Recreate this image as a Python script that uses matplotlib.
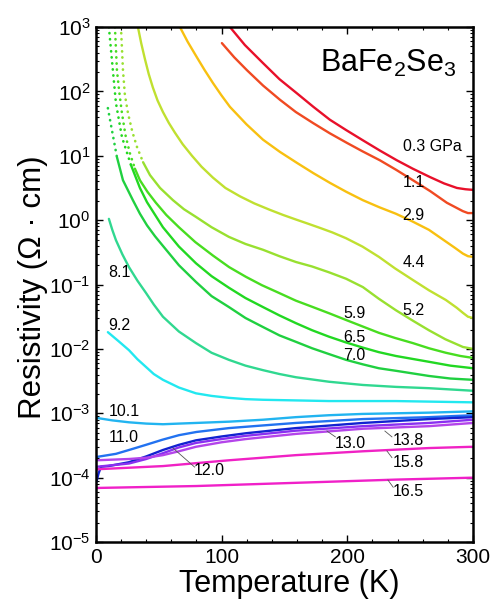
import numpy as np
import matplotlib
matplotlib.use("Agg")
import matplotlib.pyplot as plt
from matplotlib.ticker import LogLocator, MultipleLocator

plt.rcParams['font.family'] = ['Liberation Sans', 'DejaVu Sans']
plt.rcParams['mathtext.fontset'] = 'custom'
plt.rcParams['mathtext.rm'] = 'Liberation Sans'
plt.rcParams['mathtext.it'] = 'Liberation Sans:italic'

# pressure labels (GPa)
pressures = ['0.3', '1.1', '2.9', '4.4', '5.2', '5.9', '6.5', '7.0', '8.1',
             '9.2', '10.1', '11.0', '12.0', '13.0', '13.8', '15.8', '16.5']

# temperature (K) and log10 of resistivity (Ohm cm)
t_0p3 = [104, 106.6, 118.5, 132.9, 146, 159.9, 173, 186.1, 199, 212.4, 226, 239.4, 252,
         265.7, 277, 287.2, 294, 300]
lg_0p3 = [3.06, 3.0, 2.72, 2.44, 2.19, 1.97, 1.76, 1.56, 1.40, 1.24, 1.08, 0.93, 0.80,
          0.67, 0.57, 0.50, 0.48, 0.47]
t_1p1 = [100.2, 110, 120.1, 133, 146.4, 159, 172.6, 186, 199.7, 212, 225.9, 239, 252.2,
         266, 279.2, 291.9, 296, 300]
lg_1p1 = [2.75, 2.53, 2.33, 2.09, 1.87, 1.68, 1.51, 1.35, 1.20, 1.07, 0.93, 0.78, 0.62,
          0.45, 0.27, 0.14, 0.11, 0.11]
t_2p9 = [65, 66.8, 73, 80.3, 86.5, 93.1, 99.8, 106.6, 119.7, 132.9, 146.4, 159.9, 173,
         186.1, 199.2, 212.4, 225.5, 238.6, 251.8, 264.9, 276, 285.6, 292, 296, 300]
lg_2p9 = [3.06, 3.0, 2.77, 2.53, 2.33, 2.13, 1.94, 1.76, 1.49, 1.25, 1.06, 0.89, 0.73,
          0.58, 0.44, 0.31, 0.20, 0.10, -0.02, -0.15, -0.30, -0.43, -0.52, -0.56, -0.57]
t_4p4 = [32.5, 33.4, 36, 39, 42, 45.3, 49, 53.3, 58, 62.8, 69, 76.4, 84, 93.1, 103, 114.6,
         126, 138.4, 149, 159.1, 168, 178.2, 188, 198.9, 212, 225.1, 238, 252.2, 265,
         278.4, 287, 292, 296, 300]
lg_4p4 = [3.1, 3.0, 2.75, 2.50, 2.27, 2.06, 1.86, 1.68, 1.51, 1.36, 1.18, 1.00, 0.83, 0.66,
          0.50, 0.37, 0.26, 0.16, 0.08, 0.01, -0.05, -0.12, -0.19, -0.28, -0.41, -0.57,
          -0.75, -0.93, -1.09, -1.24, -1.36, -1.44, -1.50, -1.52]
t_5p2 = [19.9, 21.5, 23, 25.5, 29, 32.6, 37.5, 43, 51, 61.3, 70, 79.6, 92, 105.8, 119,
         132.9, 146, 159.1, 172, 185.4, 199, 212.4, 225, 238.7, 252, 264.9, 278, 292, 300]
lg_5p2 = [3.0, 2.33, 1.95, 1.66, 1.37, 1.14, 0.90, 0.70, 0.50, 0.31, 0.17, 0.05, -0.11,
          -0.26, -0.37, -0.46, -0.56, -0.65, -0.72, -0.81, -0.91, -1.04, -1.22, -1.40,
          -1.56, -1.71, -1.85, -1.97, -2.00]
t_5p9 = [15.1, 16.7, 18.5, 20.7, 23.5, 27, 31, 35, 41, 47.7, 56, 66, 79, 93.1, 106, 119.3,
         132, 145.6, 159, 172.6, 186, 198.9, 212, 225.1, 238, 252.2, 265, 278.4, 290, 300]
lg_5p9 = [3.0, 2.33, 2.0, 1.66, 1.32, 1.04, 0.80, 0.62, 0.44, 0.27, 0.08, -0.11, -0.34,
          -0.55, -0.73, -0.88, -1.01, -1.13, -1.25, -1.35, -1.45, -1.55, -1.65, -1.75,
          -1.83, -1.91, -1.99, -2.06, -2.11, -2.14]
t_6p5 = [10.3, 12.7, 15.9, 20.7, 27.8, 35.0, 40.6, 53.3, 66, 79.6, 92, 105.8, 119, 132.9,
         146, 159.1, 172, 185.4, 199, 212.4, 225, 238.7, 264.9, 282, 300]
lg_6p5 = [3.0, 2.49, 1.82, 1.29, 0.86, 0.50, 0.28, -0.11, -0.41, -0.67, -0.87, -1.05,
          -1.21, -1.35, -1.48, -1.60, -1.71, -1.81, -1.90, -1.98, -2.05, -2.11, -2.20,
          -2.26, -2.30]
t_7p0 = [9.5, 12.7, 16.7, 21.5, 29.4, 35, 40.6, 47, 53.3, 66, 79.6, 92, 105.8, 119,
         132.9, 146, 159.1, 172, 185.4, 199, 212.4, 225, 238.7, 264.9, 282, 300]
lg_7p0 = [1.74, 1.40, 0.98, 0.62, 0.31, 0.10, -0.08, -0.25, -0.40, -0.70, -0.96, -1.18,
          -1.35, -1.52, -1.66, -1.79, -1.89, -1.99, -2.08, -2.17, -2.24, -2.30, -2.34,
          -2.42, -2.46, -2.48]
t_8p1 = [10.3, 13, 15.9, 21, 26.3, 33, 39.8, 46, 53.3, 66, 79.6, 92, 105.8, 119, 132.9,
         146, 159.1, 185.4, 212.4, 238.7, 264.9, 300]
lg_8p1 = [0.02, -0.15, -0.31, -0.53, -0.73, -0.94, -1.13, -1.31, -1.50, -1.73, -1.91,
          -2.06, -2.17, -2.26, -2.33, -2.39, -2.44, -2.51, -2.56, -2.59, -2.61, -2.65]
t_9p2 = [9.5, 18, 26.3, 33, 39.8, 46, 53.3, 66, 79.6, 92, 105.8, 119, 132.9, 159, 185.4,
         238.7, 300]
lg_9p2 = [-1.74, -1.88, -2.02, -2.16, -2.28, -2.39, -2.48, -2.60, -2.69, -2.73, -2.76,
          -2.78, -2.79, -2.80, -2.81, -2.81, -2.83]
t_10p1 = [0, 13, 26.3, 40, 53.3, 66, 79.6, 106, 132.9, 159, 185.4, 212, 238.7, 265, 300]
lg_10p1 = [-3.07, -3.11, -3.14, -3.16, -3.17, -3.16, -3.15, -3.13, -3.10, -3.06, -3.03,
           -3.01, -3.00, -2.99, -2.97]
t_11p0 = [0, 15.9, 28, 39.8, 53, 66, 80, 105.8, 132, 159.1, 212.4, 264.9, 300]
lg_11p0 = [-3.68, -3.63, -3.56, -3.49, -3.41, -3.34, -3.29, -3.23, -3.19, -3.15, -3.09,
           -3.06, -3.03]
t_12p0 = [0.3, 2, 4, 10, 26.3, 40, 53.3, 66, 79.6, 100, 119.3, 139, 159.1, 212.4, 264.9, 300]
lg_12p0 = [-4.07, -3.94, -3.83, -3.82, -3.76, -3.67, -3.57, -3.49, -3.42, -3.36, -3.31,
           -3.27, -3.23, -3.15, -3.09, -3.06]
t_13p0 = [1, 26.3, 40, 53.3, 66, 79.6, 100, 119.3, 159.1, 212.4, 264.9, 300]
lg_13p0 = [-3.83, -3.78, -3.71, -3.62, -3.53, -3.46, -3.40, -3.35, -3.27, -3.20, -3.15, -3.10]
t_13p8 = [0, 26.3, 40, 53.3, 66, 79.6, 100, 119.3, 159.1, 212.4, 264.9, 300]
lg_13p8 = [-3.73, -3.71, -3.69, -3.65, -3.59, -3.52, -3.45, -3.40, -3.32, -3.24, -3.20, -3.15]
t_15p8 = [0, 53.3, 105.8, 159.1, 212.4, 264.9, 300]
lg_15p8 = [-3.87, -3.82, -3.73, -3.65, -3.59, -3.54, -3.52]
t_16p5 = [0, 79.6, 159.1, 238.7, 300]
lg_16p5 = [-4.16, -4.13, -4.08, -4.03, -4.00]

temps = [t_0p3, t_1p1, t_2p9, t_4p4, t_5p2, t_5p9, t_6p5, t_7p0, t_8p1, t_9p2,
         t_10p1, t_11p0, t_12p0, t_13p0, t_13p8, t_15p8, t_16p5]
logs = [lg_0p3, lg_1p1, lg_2p9, lg_4p4, lg_5p2, lg_5p9, lg_6p5, lg_7p0, lg_8p1, lg_9p2,
        lg_10p1, lg_11p0, lg_12p0, lg_13p0, lg_13p8, lg_15p8, lg_16p5]

colors = ['#e8102a', '#f04a22', '#f8c010', '#c0e030', '#98e030', '#48dd20', '#22d822',
          '#20d040', '#30d890', '#22e8f0', '#22b4f0', '#2272f0', '#1222d0', '#8a30f0',
          '#b444ea', '#f022c4', '#f020c8']
dotted = {'5.2', '5.9', '6.5', '7.0'}

fig = plt.figure(figsize=(4.92, 6.07), dpi=100)
ax = fig.add_axes([0.195, 0.107, 0.7664, 0.8485])

for p, t, lg, c in zip(pressures, temps, logs, colors):
    t = np.array(t)
    r = 10.0 ** np.array(lg)
    if p in dotted:
        i = np.argmax(r < 10)
        ax.plot(t[:i + 1], r[:i + 1], color=c, lw=1.9,
                linestyle=(0, (0.1, 2.2)), dash_capstyle='round')
        ax.plot(t[i:], r[i:], color=c, lw=1.7, solid_capstyle='round')
    else:
        ax.plot(t, r, color=c, lw=1.7, solid_capstyle='round')

ax.set_yscale('log')
ax.set_xlim(0, 300)
ax.set_ylim(1e-5, 1e3)
ax.xaxis.set_major_locator(MultipleLocator(100))
ax.xaxis.set_minor_locator(MultipleLocator(20))
ax.yaxis.set_major_locator(LogLocator(base=10, numticks=20))
ax.yaxis.set_minor_locator(LogLocator(base=10, subs=np.arange(2, 10), numticks=20))
ax.tick_params(which='both', direction='in', top=True, right=True, labelsize=15)
ax.tick_params(which='major', length=5, width=1)
ax.tick_params(which='minor', length=2.5, width=0.8)
ax.tick_params(axis='y', pad=4)
ax.tick_params(axis='x', pad=4)
for s in ax.spines.values():
    s.set_linewidth(1.8)

ax.set_xlabel('Temperature (K)', fontsize=22, va='center')
ax.set_ylabel('Resistivity (\u03a9 \u00b7 cm)', fontsize=22.5, va='center')
ax.xaxis.set_label_coords(0.512, -0.081)
ax.yaxis.set_label_coords(-0.167, 0.495)

ax.text(178, 275, r'BaFe$_2$Se$_3$', fontsize=22, va='center')

# pressure labels: (text, T, rho)
labels = [('0.3 GPa', 244, 13.7), ('1.1', 244, 3.9), ('2.9', 244, 1.2),
          ('4.4', 244, 0.216), ('5.2', 244, 0.040), ('5.9', 196.5, 0.036),
          ('6.5', 196.5, 0.0153), ('7.0', 196.5, 0.0078), ('8.1', 9.5, 0.156),
          ('9.2', 9.5, 0.0227), ('10.1', 10.3, 1.08e-3), ('11.0', 10.3, 4.28e-4),
          ('12.0', 77.5, 1.31e-4), ('13.0', 190, 3.45e-4), ('13.8', 236.3, 3.84e-4),
          ('15.8', 236.3, 1.75e-4), ('16.5', 236.3, 6.0e-5)]
for txt, x, y in labels:
    ax.text(x, y, txt, fontsize=11.5, va='center', ha='left')

# leader lines: (T0, rho0, T1, rho1)
leaders = [(61.3, 2.88e-4, 78.5, 1.46e-4), (183.8, 5.3e-4, 190.5, 4.3e-4),
           (229.9, 5.3e-4, 235.5, 4.3e-4), (231.5, 2.6e-4, 235.5, 2.05e-4),
           (232.3, 9.2e-5, 236.5, 7.1e-5)]
for x0, y0, x1, y1 in leaders:
    ax.plot([x0, x1], [y0, y1], color='#555555', lw=0.6)

fig.savefig('out.png', dpi=100)
